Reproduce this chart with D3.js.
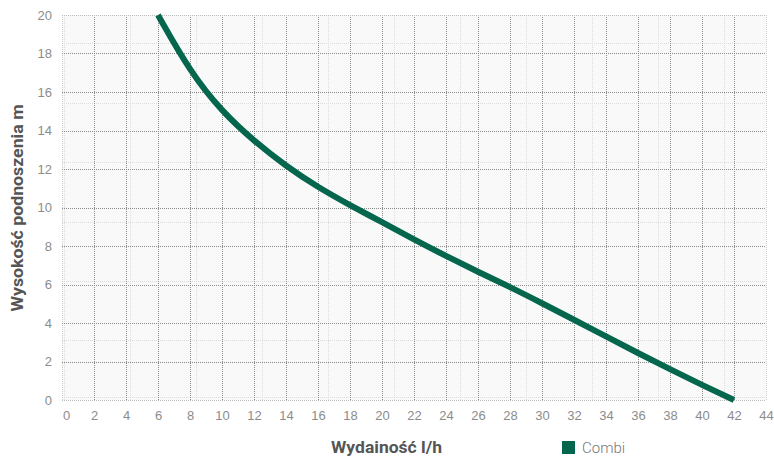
<!DOCTYPE html>
<html>
<head>
<meta charset="utf-8">
<script src="https://cdn.jsdelivr.net/npm/d3@7"></script>
<style>
  html, body { margin: 0; padding: 0; background: #ffffff; }
  svg { display: block; font-family: Roboto, "Open Sans", sans-serif; }
</style>
</head>
<body>
<svg id="chart" width="774" height="458"></svg>
<script>
// ---- data ----
const flow = [6, 8, 10, 12, 14, 16, 18, 20, 22, 24, 26, 28, 30, 32, 34, 36, 38, 40, 42];
const head = [20, 17.06, 14.98, 13.45, 12.15, 11.05, 10.12, 9.24, 8.33, 7.48, 6.66, 5.87, 5.03, 4.17, 3.3, 2.44, 1.6, 0.78, 0];
const xTicks = [0, 2, 4, 6, 8, 10, 12, 14, 16, 18, 20, 22, 24, 26, 28, 30, 32, 34, 36, 38, 40, 42, 44];
const yTicks = [0, 2, 4, 6, 8, 10, 12, 14, 16, 18, 20];
const seriesName = "Combi";
const xTitle = "Wydainość l/h";
const yTitle = "Wysokość podnoszenia m";
// faint background grid (in data units)
const bgX = [0.125, 4.25, 8.375, 12.5, 16.625, 20.75, 24.875, 29, 33.125, 37.25, 41.375];
const bgY = [0.18, 3.1, 6.2, 9.25, 12.35, 15.45, 18.55];

const svg = d3.select("#chart");
const m = { left: 62, right: 8, top: 15, bottom: 58 };
const W = 774, H = 458;
const x = d3.scaleLinear().domain([0, 44]).range([m.left, W - m.right]);
const y = d3.scaleLinear().domain([0, 20]).range([H - m.bottom, m.top]);
const green = "#04664c";

// plot background
svg.append("rect")
  .attr("x", x(0)).attr("y", y(20))
  .attr("width", x(44) - x(0)).attr("height", y(0) - y(20))
  .attr("fill", "#f9f9f9");

// faint grid
const g0 = svg.append("g");
g0.selectAll(".bx").data(bgX).join("line")
  .attr("x1", d => Math.round(x(d)) + 0.5).attr("x2", d => Math.round(x(d)) + 0.5)
  .attr("y1", y(20)).attr("y2", y(0))
  .attr("stroke", "#dcdcdc").attr("stroke-dasharray", "1,1");
g0.selectAll(".by").data(bgY).join("line")
  .attr("y1", d => Math.round(y(d)) + 0.5).attr("y2", d => Math.round(y(d)) + 0.5)
  .attr("x1", x(0)).attr("x2", x(44))
  .attr("stroke", "#dcdcdc").attr("stroke-dasharray", "1,1");

// main grid
const g1 = svg.append("g");
g1.selectAll(".gx").data(xTicks).join("line")
  .attr("x1", d => Math.round(x(d)) + 0.5).attr("x2", d => Math.round(x(d)) + 0.5)
  .attr("y1", y(20)).attr("y2", y(0))
  .attr("stroke", d => (d === 0 || d === 44) ? "#cfcfcf" : "#8a8a8a")
  .attr("stroke-dasharray", "1,1");
g1.selectAll(".gy").data(yTicks).join("line")
  .attr("y1", d => Math.round(y(d)) + 0.5).attr("y2", d => Math.round(y(d)) + 0.5)
  .attr("x1", x(0)).attr("x2", x(44))
  .attr("stroke", d => (d === 0 || d === 20) ? "#bdbdbd" : "#8a8a8a")
  .attr("stroke-dasharray", "1,1");

// axes (labels only)
const xAxis = svg.append("g")
  .attr("transform", `translate(0,${y(0)})`)
  .call(d3.axisBottom(x).tickValues(xTicks).tickSize(0).tickPadding(11));
xAxis.select(".domain").remove();
xAxis.selectAll("text").attr("fill", "#8c8c8c").attr("dx", d => d === 0 ? 4 : 0)
  .style("font-size", "13px").style("font-weight", 300);

const yAxis = svg.append("g")
  .attr("transform", `translate(${x(0)},0)`)
  .call(d3.axisLeft(y).tickValues(yTicks).tickSize(0).tickPadding(10));
yAxis.select(".domain").remove();
yAxis.selectAll("text").attr("fill", "#8c8c8c").style("font-size", "13px").style("font-weight", 300);

// curve
const line = d3.line().x((d, i) => x(flow[i])).y(d => y(d)).curve(d3.curveBasis);
svg.append("path")
  .datum(head)
  .attr("d", line)
  .attr("fill", "none")
  .attr("stroke", green)
  .attr("stroke-width", 6);

// axis titles
svg.append("text")
  .attr("transform", `translate(23,${208}) rotate(-90)`)
  .attr("text-anchor", "middle")
  .attr("fill", "#555")
  .attr("textLength", 207).attr("lengthAdjust", "spacingAndGlyphs")
  .style("font-size", "17px").style("font-weight", 700)
  .text(yTitle);

svg.append("text")
  .attr("x", 386.5).attr("y", 453)
  .attr("text-anchor", "middle")
  .attr("fill", "#555")
  .attr("textLength", 111).attr("lengthAdjust", "spacingAndGlyphs")
  .style("font-size", "17px").style("font-weight", 700)
  .text(xTitle);

// legend
svg.append("rect")
  .attr("x", 562).attr("y", 441).attr("width", 13).attr("height", 13)
  .attr("fill", green);
svg.append("text")
  .attr("x", 582).attr("y", 453)
  .attr("fill", "#777")
  .style("font-size", "15px").style("font-weight", 300)
  .text(seriesName);
</script>
</body>
</html>
